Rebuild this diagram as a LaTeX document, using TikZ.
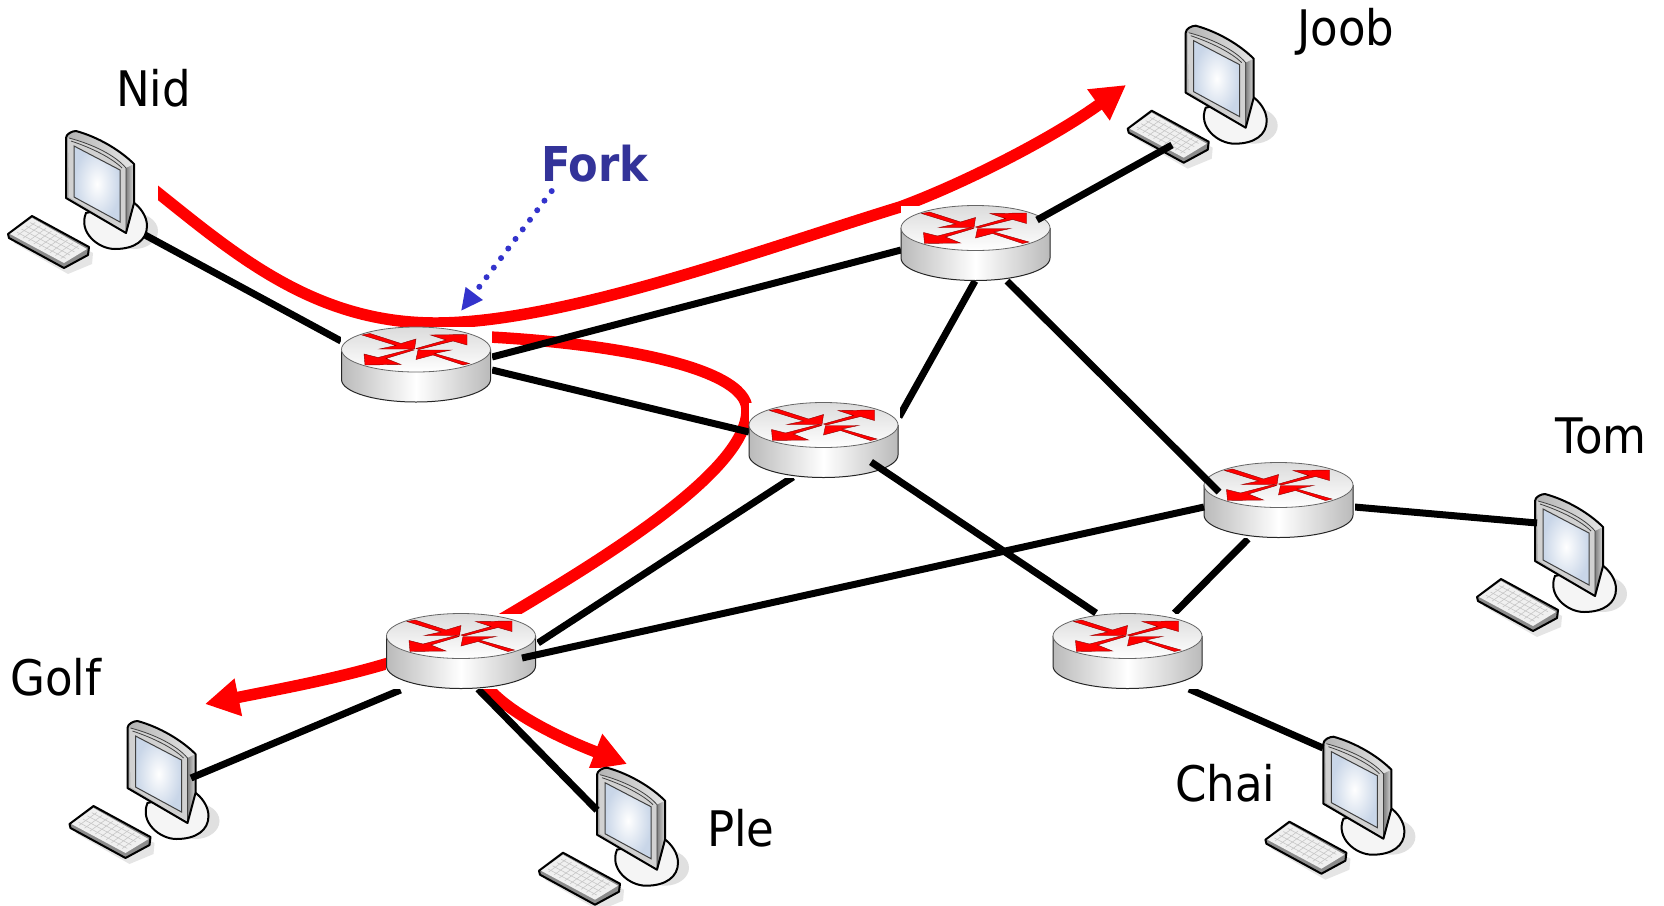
\documentclass[tikz,border=0pt]{standalone}
\usepackage{fontspec}
\usetikzlibrary{arrows.meta}
\newfontfamily\labelfont[FakeStretch=0.92]{DejaVu Sans}
\newfontfamily\forkfont[FakeStretch=0.9]{DejaVu Sans Bold}
\definecolor{flowred}{HTML}{FF0000}
\definecolor{forkblue}{HTML}{3333CC}
\definecolor{forktext}{HTML}{333399}
\definecolor{screenblue}{HTML}{C9D6E8}
\pgfdeclarelayer{flows}
\pgfdeclarelayer{comps}
\pgfdeclarelayer{links}
\pgfsetlayers{flows,comps,links,main}
\tikzset{
  netlink/.style={draw=black,line width=7pt,line cap=butt},
  flowline/.style={draw=flowred,line width=11.5pt,line cap=butt},
  flowtip/.style={-{Triangle[length=34pt,width=36pt]},flowred},
  routerbox/.style={rectangle,fill=white,draw=none,minimum width=151pt,minimum height=75pt,inner sep=0pt},
  compbox/.style={rectangle,fill=white,draw=none,minimum width=150pt,minimum height=139pt,inner sep=0pt},
  namelabel/.style={anchor=base west,inner sep=0pt,font=\labelfont\fontsize{49}{51}\selectfont},
  arrowshape/.style={fill=flowred,draw=black!45!flowred,line width=0.4pt,line join=miter},
}
% router: node "name" at (cx,cy+15), (cx,cy) being the centre of the top ellipse
\newcommand\routerat[3]{%
  \node[routerbox] (#1) at (#2,#3+15) {};
  \begin{scope}[shift={(#1.center)}]\begin{scope}[shift={(-0.5,-15)}]
    \shade[left color=black!27,right color=black!27,middle color=white]
      (-74.5,0) -- (-74.5,30) .. controls (-74.5,42.4) and (-41.2,52.5) .. (0,52.5)
      .. controls (41.2,52.5) and (74.5,42.4) .. (74.5,30) -- (74.5,0) -- cycle;
    \draw[black!85,line width=1pt]
      (-74.5,0) -- (-74.5,30) .. controls (-74.5,42.4) and (-41.2,52.5) .. (0,52.5)
      .. controls (41.2,52.5) and (74.5,42.4) .. (74.5,30) -- (74.5,0);
    \shade[top color=black!14,bottom color=white] (0,0) ellipse [x radius=74.5pt,y radius=22.5pt];
    \draw[black!60,line width=0.8pt] (0,0) ellipse [x radius=74.5pt,y radius=22.5pt];
    \path[arrowshape] (-54,-14.5) -- (-46,-16) -- (-15,-6) -- (0,-10.5) -- (-1.5,-0.5) -- (-36.5,-0.5) -- (-20,-4) -- cycle;
    \path[arrowshape] (0,-1) -- (30,-9.5) -- (14.5,-14.5) -- (51,-15) -- (51,-4.5) -- (37,-8.5) -- (3,0) -- cycle;
    \path[arrowshape] (-2,0.5) -- (-30,9) -- (-15,15) -- (-51,15.5) -- (-52,4.5) -- (-38,8) -- (-5,-0.5) -- cycle;
    \path[arrowshape] (53.5,14) -- (47,15.5) -- (17,5.5) -- (0,10) -- (2,0.5) -- (35,0.5) -- (18.5,4) -- cycle;
  \end{scope}\end{scope}%
}
% computer: local coordinates are those of the Nid computer in picture units
\newcommand\computerat[3]{%
  \node[compbox] (#1) at (#2,#3) {};
  \begin{scope}[shift={(#1.center)}]\begin{scope}[shift={(-83,-200.5)}]
    \fill[black!12] (134,231) ellipse [x radius=24pt,y radius=18pt];
    \fill[black!10] (34,222) -- (93,253) -- (92,264) -- (68,274) -- (14,243) -- cycle;
    \filldraw[fill=black!4,draw=black,line width=2pt]
      (86,213) .. controls (78,232) and (98,249) .. (115,249)
      .. controls (135,249) and (147,240) .. (147,226)
      .. controls (147,216) and (140,207) .. (133,202) -- cycle;
    % keyboard
    \filldraw[fill=black!45,draw=black,line width=2pt,line join=round]
      (32,216) -- (89,247) -- (88,255) -- (64,268) -- (9,238) -- (8,234) -- cycle;
    \fill[black!6] (32,218) -- (87,249) -- (64,263) -- (10,234) -- cycle;
    \foreach \u in {0.2,0.4,0.6,0.8}
      \draw[black!22,line width=0.6pt] ({10+22*\u+54*0.05},{234-16*\u+29*0.05}) -- ({10+22*\u+54*0.95},{234-16*\u+29*0.95});
    \foreach \v in {0.1,0.2,0.3,0.4,0.5,0.6,0.7,0.8,0.9}
      \draw[black!22,line width=0.6pt] ({10+22*0.1+54*\v},{234-16*0.1+29*\v}) -- ({10+22*0.9+54*\v},{234-16*0.9+29*\v});
    % monitor
    \shade[left color=black!30,right color=black!10]
      (66,138) .. controls (66,134) and (72,131) .. (76,131)
      .. controls (98,137) and (120,150) .. (134,164) -- (134,203) -- (126,233) -- (66,198) -- cycle;
    \fill[black!18] (68,138) .. controls (92,144) and (115,155) .. (126,168) -- (126,231) -- (69,197) -- cycle;
    \shade[left color=black!50,right color=black!15] (126,168) -- (134,164) -- (134,203) -- (126,232) -- cycle;
    \draw[black!75,line width=0.8pt] (69,138) .. controls (92,144) and (115,155) .. (126,168) -- (126,231);
    \draw[black!75,line width=0.8pt] (71,141) .. controls (92,148) and (112,158) .. (122,168);
    \shade[inner color=white,outer color=screenblue] (74,146) -- (120,170) -- (120,222) -- (74,197) -- cycle;
    \draw[black!75,line width=1pt] (74,146) -- (120,170) -- (120,222) -- (74,197) -- cycle;
    \draw[black,line width=2pt,line join=round]
      (66,138) .. controls (66,134) and (72,131) .. (76,131)
      .. controls (98,137) and (120,150) .. (134,164) -- (134,203) -- (126,233) -- (66,198) -- cycle;
  \end{scope}\end{scope}%
}
\begin{document}
\begin{tikzpicture}[x=1pt,y=-1pt]
\useasboundingbox (0,0) rectangle (1664,905);

% computers on their own layer
\begin{pgfonlayer}{comps}
  \computerat{nid}{83}{200.5}
  \computerat{joob}{1202.7}{95.2}
  \computerat{tom}{1552}{563.5}
  \computerat{chai}{1340.4}{806.2}
  \computerat{golf}{144.5}{790.5}
  \computerat{ple}{614}{837.2}
\end{pgfonlayer}

% routers on the main layer, above the links
\routerat{r1}{416.5}{349.5}
\routerat{r2}{976}{228}
\routerat{r3}{824}{425}
\routerat{r4}{1279}{485}
\routerat{r5}{1128}{636}
\routerat{r6}{461.5}{636}

% red flows, below everything
\begin{pgfonlayer}{flows}
  \draw[flowline,flowtip] ([shift={(67,-14)}]nid.center)
    .. controls (230,250) and (310,322) .. (433,323)
    .. controls (560,324) and (760,250) .. (900,207)
    .. controls (960,185) and (1050,140) .. (1126,85);
  \coordinate (forkjoin) at ([shift={(63,-28)}]r1.center);
  \draw[flowline] (forkjoin)
    .. controls (600,342) and (747,365) .. (747,410)
    .. controls (747,470) and (610,555) .. ([shift={(38.5,-31)}]r6.center);
  \draw[flowline,flowtip] ([shift={(-69.5,11)}]r6.center)
    .. controls (340,678) and (280,689) .. (205,704);
  \draw[flowline,flowtip] ([shift={(21.5,31)}]r6.center)
    .. controls (505,712) and (560,738) .. (627,764);
\end{pgfonlayer}

% black links
\begin{pgfonlayer}{links}
  \draw[netlink] ([shift={(62,34.5)}]nid.center) -- ([shift={(-75.5,-23.5)}]r1.center);
  \draw[netlink] ([shift={(75.5,-7.5)}]r1.center) -- ([shift={(-75,7)}]r2.center);
  \draw[netlink] ([shift={(75.5,5.5)}]r1.center) -- ([shift={(-75,-8)}]r3.center);
  \draw[netlink] ([shift={(-1,38)}]r2.center) -- ([shift={(75,-23)}]r3.center);
  \draw[netlink] ([shift={(-31,37)}]r3.center) -- ([shift={(76.5,-8)}]r6.center);
  \draw[netlink] ([shift={(-31,39)}]r4.center) -- ([shift={(46.5,-38)}]r5.center);
  \draw[netlink] ([shift={(75.5,7)}]r4.center) -- ([shift={(-15,-40.5)}]tom.center);
  \draw[netlink] ([shift={(61,38)}]r5.center) -- ([shift={(-17.4,-58.2)}]chai.center);
  \draw[netlink] ([shift={(-61,39)}]r6.center) -- ([shift={(46.5,-12.5)}]golf.center);
  \draw[netlink] ([shift={(16.5,38)}]r6.center) -- ([shift={(-17,-27)}]ple.center);
\end{pgfonlayer}

% links that end on top of a router
\draw[netlink] ([shift={(61,-23)}]r2.center) -- ([shift={(-30.7,49.8)}]joob.center);
\draw[netlink] ([shift={(31,38)}]r2.center) -- ([shift={(-60,-8)}]r4.center);
\draw[netlink] ([shift={(47,22)}]r3.center) -- ([shift={(-32,-38)}]r5.center);
\draw[netlink] ([shift={(-75,7)}]r4.center) -- ([shift={(60.5,7)}]r6.center);

% labels
\node[namelabel] (lnid) at (116,106) {Nid};
\node[namelabel] (ljoob) at (1297,45) {Joob};
\node[namelabel] (ltom) at (1555,453) {Tom};
\node[namelabel] (lchai) at (1175,801.7) {Chai};
\node[namelabel] (lgolf) at (10,695.7) {Golf};
\node[namelabel] (lple) at (707,846.7) {Ple};
\node[anchor=base west,inner sep=0pt,text=forktext,font=\forkfont\fontsize{48}{50}\selectfont] (fork) at (541,181.7) {Fork};

% dotted arrow from the Fork label
\coordinate (forktip) at (461,311);
\draw[forkblue,line width=6pt,line cap=round,dash pattern=on 0pt off 12pt,
      -{Triangle[length=22pt,width=20pt]}]
  ([shift={(10.7,8.5)}]fork.south west) -- (forktip);
\end{tikzpicture}
\end{document}
